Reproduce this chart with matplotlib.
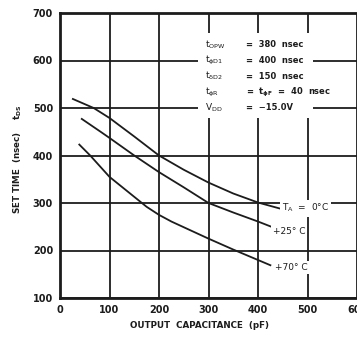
import matplotlib
matplotlib.use("Agg")
import matplotlib.pyplot as plt
from matplotlib.patches import Rectangle

# Set time t_DS vs output capacitance for three ambient temperatures
cap_0c = [26, 68, 100, 150, 200, 250, 300, 350, 400, 449]
tds_0c = [519, 500, 479, 440, 400, 370, 343, 320, 301, 287]

cap_25c = [44, 82, 100, 150, 200, 250, 300, 350, 400, 427]
tds_25c = [477, 450, 437, 400, 365, 333, 300, 280, 261, 250]

cap_70c = [39, 61, 100, 150, 175, 200, 225, 250, 300, 350, 400, 425]
tds_70c = [423, 400, 355, 313, 292, 275, 261, 249, 225, 202, 180, 169]

x_ticks = [0, 100, 200, 300, 400, 500, 600]
y_ticks = [100, 200, 300, 400, 500, 600, 700]

cond_names = [r"$\mathregular{t_{OPW}}$", r"$\mathregular{t_{\phi D1}}$",
              r"$\mathregular{t_{\delta D2}}$", r"$\mathregular{t_{\phi R}}$",
              r"$\mathregular{V_{DD}}$"]
cond_values = ["=  380  nsec", "=  400  nsec", "=  150  nsec",
               r"=  $\mathregular{t_{\phi F}}$  =  40  nsec", "=  \u221215.0V"]

INK = "#1c1c1c"
fig = plt.figure(figsize=(3.57, 3.38), dpi=100)
ax = fig.add_axes([60 / 357, 1 - 298 / 338, 297 / 357, 285 / 338])

ax.set_xlim(0, 600)
ax.set_ylim(100, 700)
ax.set_xticks(x_ticks)
ax.set_yticks(y_ticks)
ax.tick_params(length=0, labelsize=7, colors=INK, pad=5)
for lab in ax.get_xticklabels() + ax.get_yticklabels():
    lab.set_fontweight("bold")

ax.grid(True, color=INK, linewidth=1.3)
ax.set_axisbelow(True)
for side in ("left", "bottom", "top"):
    ax.spines[side].set_linewidth(2)
    ax.spines[side].set_color(INK)
ax.spines["right"].set_visible(False)

for cx, ty in ((cap_0c, tds_0c), (cap_25c, tds_25c), (cap_70c, tds_70c)):
    ax.plot(cx, ty, color=INK, linewidth=1.3, zorder=3,
            solid_joinstyle="round")

# clear area behind the test-condition block
ax.add_patch(Rectangle((279, 479), 232, 179, facecolor="white",
                       edgecolor="none", zorder=2))
cond_y = [633, 601, 567, 532, 500]
for name, val, yy in zip(cond_names, cond_values, cond_y):
    ax.text(293, yy, name, fontsize=6.5, color=INK, va="center", zorder=4)
    ax.text(376, yy, val, fontsize=6, color=INK, va="center", zorder=4,
            fontweight="bold")

box = dict(facecolor="white", edgecolor="none", pad=1.5)
ax.text(448, 289, r"$\mathregular{T_A}$  =  0°C", fontsize=6.5, color=INK,
        va="center", zorder=4, bbox=box)
ax.text(430, 240, "+25° C", fontsize=6.5, color=INK, va="center",
        zorder=4, bbox=box)
ax.text(434, 165, "+70° C", fontsize=6.5, color=INK, va="center",
        zorder=4, bbox=box)

fig.text(18 / 357, 1 - 159 / 338, r"SET TIME  (nsec)    $\mathregular{t_{DS}}$",
         rotation=90, fontsize=6.3, color=INK, ha="center", va="center",
         fontweight="bold")
fig.text(200 / 357, 1 - 326 / 338, "OUTPUT  CAPACITANCE  (pF)", fontsize=6.3,
         color=INK, ha="center", va="center", fontweight="bold")

fig.savefig("out.png", dpi=100, facecolor="white")
